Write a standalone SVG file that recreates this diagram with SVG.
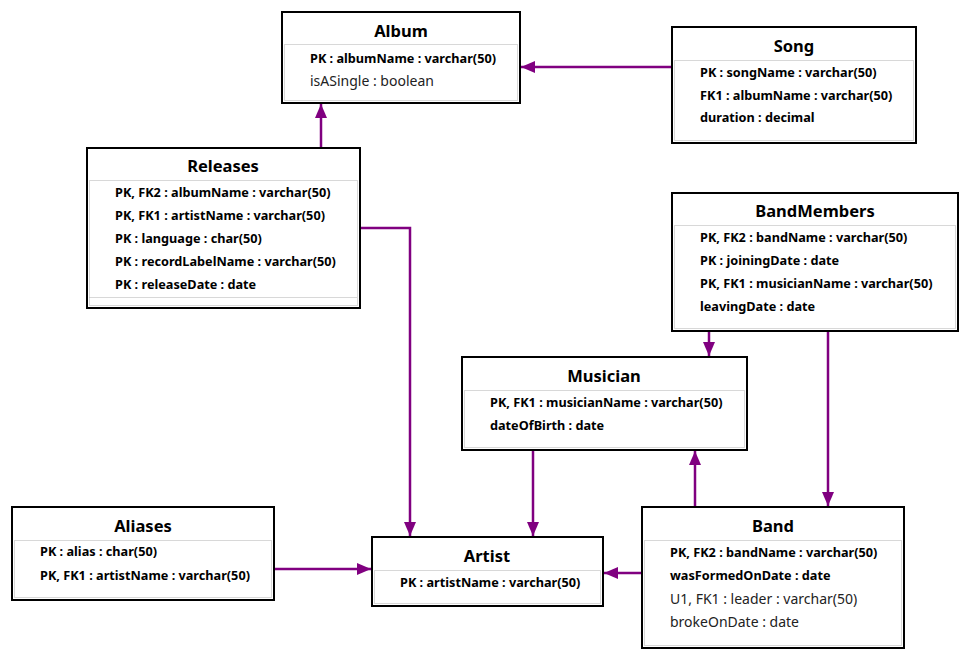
<svg xmlns="http://www.w3.org/2000/svg" width="969" height="658" viewBox="0 0 969 658">
<style>
.box{fill:#fff;stroke:#000;stroke-width:2}
.sep{fill:none;stroke:#b0b0b0;stroke-width:1;stroke-dasharray:1 1}
.t{font-family:"Noto Sans","Open Sans",sans-serif;font-size:16.5px;font-weight:bold;text-anchor:middle;fill:#000}
.a{font-family:"Noto Sans","Open Sans",sans-serif;font-size:12.7px;font-weight:bold;fill:#000}
.r{font-family:"Noto Sans","Open Sans",sans-serif;font-size:14px;fill:#222}
.c{fill:none;stroke:#800080;stroke-width:2.5}
</style>
<defs>
<marker id="ah" viewBox="0 0 14 12" refX="14" refY="6" markerWidth="14" markerHeight="12" markerUnits="userSpaceOnUse" orient="auto">
<path d="M0,0 L14,6 L0,12 Z" fill="#800080"/>
</marker>
</defs>
<g id="connectors">
<path class="c" d="M672,67 L521,67" marker-end="url(#ah)"/>
<path class="c" d="M321,148 L321,104" marker-end="url(#ah)"/>
<path class="c" d="M360,228 L410,228 L410,536" marker-end="url(#ah)"/>
<path class="c" d="M274,569 L371,569" marker-end="url(#ah)"/>
<path class="c" d="M533,450 L533,536" marker-end="url(#ah)"/>
<path class="c" d="M642,573 L604,573" marker-end="url(#ah)"/>
<path class="c" d="M695,507 L695,451" marker-end="url(#ah)"/>
<path class="c" d="M709,331 L709,356" marker-end="url(#ah)"/>
<path class="c" d="M828,331 L828,506" marker-end="url(#ah)"/>
</g>
<g id="album">
<rect class="box" x="282" y="12" width="238" height="91"/>
<rect class="sep" x="284.5" y="44.5" width="233" height="56"/>
<text class="t" x="401" y="37">Album</text>
<text class="a" x="310" y="63">PK : albumName : varchar(50)</text>
<text class="r" x="310" y="86">isASingle : boolean</text>
</g>
<g id="song">
<rect class="box" x="672" y="27" width="244" height="116"/>
<rect class="sep" x="674.5" y="60.5" width="239" height="80"/>
<text class="t" x="794" y="52">Song</text>
<text class="a" x="700" y="77">PK : songName : varchar(50)</text>
<text class="a" x="700" y="100">FK1 : albumName : varchar(50)</text>
<text class="a" x="700" y="122">duration : decimal</text>
</g>
<g id="releases">
<rect class="box" x="87" y="148" width="273" height="160"/>
<rect class="sep" x="89.5" y="180.5" width="268" height="125"/>
<line class="sep" x1="89.5" y1="297.5" x2="357.5" y2="297.5"/>
<text class="t" x="223" y="172">Releases</text>
<text class="a" x="115" y="197">PK, FK2 : albumName : varchar(50)</text>
<text class="a" x="115" y="220">PK, FK1 : artistName : varchar(50)</text>
<text class="a" x="115" y="243">PK : language : char(50)</text>
<text class="a" x="115" y="266">PK : recordLabelName : varchar(50)</text>
<text class="a" x="115" y="289">PK : releaseDate : date</text>
</g>
<g id="bandmembers">
<rect class="box" x="672" y="193" width="286" height="138"/>
<rect class="sep" x="674.5" y="225.5" width="281" height="103"/>
<text class="t" x="815" y="217">BandMembers</text>
<text class="a" x="700" y="242">PK, FK2 : bandName : varchar(50)</text>
<text class="a" x="700" y="265">PK : joiningDate : date</text>
<text class="a" x="700" y="288">PK, FK1 : musicianName : varchar(50)</text>
<text class="a" x="700" y="311">leavingDate : date</text>
</g>
<g id="musician">
<rect class="box" x="462" y="357" width="285" height="93"/>
<rect class="sep" x="464.5" y="390.5" width="280" height="57"/>
<text class="t" x="604" y="382">Musician</text>
<text class="a" x="490" y="407">PK, FK1 : musicianName : varchar(50)</text>
<text class="a" x="490" y="430">dateOfBirth : date</text>
</g>
<g id="aliases">
<rect class="box" x="12" y="507" width="262" height="93"/>
<rect class="sep" x="14.5" y="540.5" width="257" height="57"/>
<text class="t" x="143" y="532">Aliases</text>
<text class="a" x="40" y="556">PK : alias : char(50)</text>
<text class="a" x="40" y="580">PK, FK1 : artistName : varchar(50)</text>
</g>
<g id="artist">
<rect class="box" x="372" y="537" width="231" height="69"/>
<rect class="sep" x="374.5" y="570.5" width="226" height="33"/>
<text class="t" x="487" y="562">Artist</text>
<text class="a" x="400" y="587">PK : artistName : varchar(50)</text>
</g>
<g id="band">
<rect class="box" x="642" y="507" width="262" height="141"/>
<rect class="sep" x="644.5" y="540.5" width="257" height="105"/>
<text class="t" x="773" y="532">Band</text>
<text class="a" x="670" y="557">PK, FK2 : bandName : varchar(50)</text>
<text class="a" x="670" y="580">wasFormedOnDate : date</text>
<text class="r" x="670" y="604">U1, FK1 : leader : varchar(50)</text>
<text class="r" x="670" y="627">brokeOnDate : date</text>
</g>
</svg>
